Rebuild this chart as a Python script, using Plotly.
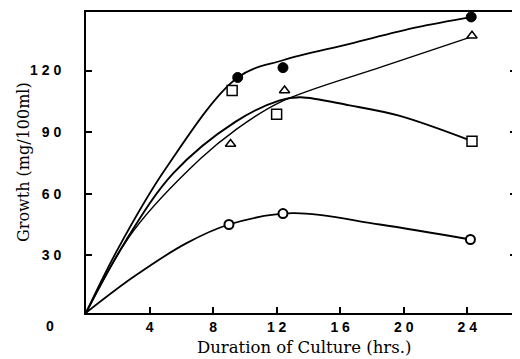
import plotly.graph_objects as go

# Measured points (hours, mg/100ml)
hours_filled = [9.55, 12.4, 24.25]
growth_filled = [116.6, 121.4, 146.1]
hours_square = [9.2, 12.0, 24.3]
growth_square = [110.3, 98.7, 85.6]
hours_triangle = [9.1, 12.5, 24.3]
growth_triangle = [84.2, 110.3, 136.9]
hours_open = [9.0, 12.4, 24.2]
growth_open = [45.0, 50.3, 37.7]

# Fitted curves
curve_filled_x = [0, 2, 5, 9.55, 12.4, 16.6, 20.8, 24.25]
curve_filled_y = [2, 33, 72, 116.6, 125, 133, 141, 146]
curve_square_x = [0, 2.5, 5.5, 9.4, 12.2, 13.5, 16.6, 19.7, 24.3]
curve_square_y = [2, 37, 70, 95, 105.5, 107, 103, 98, 85.6]
curve_triangle_x = [0, 3, 7.2, 9.4, 12.2, 18.7, 24.3]
curve_triangle_y = [2, 42, 77, 91, 104.5, 122, 136.5]
curve_open_x = [0, 3, 6.3, 9, 13, 18.5, 24.2]
curve_open_y = [2, 19.5, 35.8, 45, 50.5, 45, 37.7]

x_tickvals = [4, 8, 12, 16, 20, 24]
x_ticktext = ["4", "8", "1 2", "1 6", "2 0", "2 4"]
y_tickvals = [30, 60, 90, 120]
y_ticktext = ["3 0", "6 0", "9 0", "1 2 0"]

fig = go.Figure()

def add_curve(xs, ys, w):
    fig.add_trace(go.Scatter(x=xs, y=ys, mode="lines",
                             line=dict(color="black", width=w, shape="spline", smoothing=1.0),
                             hoverinfo="skip", showlegend=False))

add_curve(curve_filled_x, curve_filled_y, 1.8)
add_curve(curve_square_x, curve_square_y, 1.9)
add_curve(curve_triangle_x, curve_triangle_y, 1.4)
add_curve(curve_open_x, curve_open_y, 1.8)

def add_marks(xs, ys, symbol, size, fill, lw):
    fig.add_trace(go.Scatter(x=xs, y=ys, mode="markers", showlegend=False,
                             marker=dict(symbol=symbol, size=size, color=fill,
                                         line=dict(color="black", width=lw))))

add_marks(hours_filled, growth_filled, "circle", 10, "black", 1)
add_marks(hours_square, growth_square, "square", 10, "white", 1.5)
add_marks(hours_triangle, growth_triangle, "triangle-up", 9, "white", 1.5)
add_marks(hours_open, growth_open, "circle", 9, "white", 2)

tickfont = dict(family="Liberation Sans", size=14, color="black", weight="bold")

# The page body has an 8px margin, so the figure is 8px smaller each way
fig.update_layout(
    width=512, height=351,
    margin=dict(l=78, r=3, t=2, b=46),
    paper_bgcolor="white", plot_bgcolor="white",
    xaxis=dict(range=[0, 27.07], tickvals=x_tickvals, ticktext=x_ticktext,
               ticks="inside", ticklen=6, tickwidth=1.5, tickcolor="black",
               showline=True, linecolor="black", linewidth=2, mirror=True,
               showgrid=False, zeroline=False, tickfont=tickfont, ticklabelstandoff=0),
    yaxis=dict(range=[1.9, 148.5], tickvals=y_tickvals, ticktext=y_ticktext,
               ticks="inside", ticklen=6, tickwidth=1.5, tickcolor="black",
               showline=True, linecolor="black", linewidth=2, mirror="ticks",
               showgrid=False, zeroline=False, tickfont=tickfont, ticklabelstandoff=20),
    annotations=[
        dict(text="Duration of Culture (hrs.)", xref="paper", yref="paper", x=0.506, y=-0.1155,
             xanchor="center", yanchor="middle", showarrow=False,
             font=dict(family="DejaVu Serif", size=16.5, color="black")),
        dict(text="Growth (mg/100ml)", xref="paper", yref="paper", x=-0.144, y=0.502,
             xanchor="center", yanchor="middle", showarrow=False, textangle=-90,
             font=dict(family="DejaVu Serif", size=16, color="black")),
        dict(text="0", xref="paper", yref="paper", x=-0.0835, y=-0.043,
             xanchor="center", yanchor="middle", showarrow=False, font=tickfont),
    ],
)

fig.write_html("out.html")
